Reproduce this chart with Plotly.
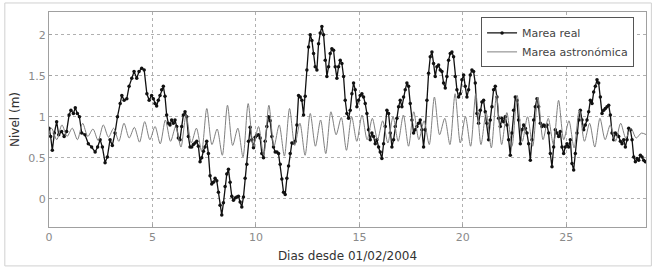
import numpy as np
import plotly.graph_objects as go

# ---- Marea real (measured level, m) ----
real_days_a = [0.00, 0.08, 0.16, 0.26, 0.37, 0.47, 0.61, 0.73, 0.85, 0.97, 1.06, 1.18, 1.27, 1.37,
               1.47, 1.58, 1.74, 1.90, 2.06, 2.23, 2.35, 2.47, 2.58, 2.71, 2.82, 2.95, 3.06, 3.19,
               3.31, 3.44, 3.52, 3.63, 3.76, 3.87, 4.00, 4.11, 4.24, 4.35, 4.48, 4.60, 4.73, 4.84]
real_level_a = [0.86, 0.76, 0.59, 0.80, 0.94, 0.78, 0.82, 0.76, 0.82, 1.02, 1.08, 1.04, 1.11, 1.04,
                1.00, 0.80, 0.78, 0.67, 0.63, 0.57, 0.63, 0.72, 0.63, 0.44, 0.51, 0.72, 0.65, 0.80,
                1.00, 1.16, 1.26, 1.20, 1.22, 1.37, 1.47, 1.55, 1.47, 1.55, 1.59, 1.57, 1.28, 1.20]

real_span_b = (4.96, 12.06)
real_level_b = [1.26, 1.22, 1.16, 1.13, 1.20, 1.26, 1.33, 1.37, 1.25, 1.02, 0.92, 0.90, 0.96, 0.92,
                0.96, 0.88, 0.74, 0.72, 0.88, 1.02, 1.06, 1.00, 0.76, 0.63, 0.63, 0.66, 0.68, 0.70,
                0.64, 0.45, 0.50, 0.58, 0.63, 0.70, 0.55, 0.28, 0.18, 0.20, 0.25, 0.22, 0.08, -0.08,
                -0.20, -0.05, 0.15, 0.30, 0.36, 0.20, 0.03, -0.02, 0.01, 0.02, 0.03, -0.04, -0.10,
                0.02, 0.25, 0.42, 0.70, 0.87, 0.72, 0.62, 0.75, 0.77, 0.78, 0.74, 0.55, 0.50, 0.70,
                0.88, 1.00, 0.95, 0.76, 0.63, 0.57, 0.57, 0.55, 0.42, 0.24, 0.08, 0.05, 0.25, 0.40,
                0.55, 0.68, 0.68, 0.70, 0.90, 1.26]

real_span_c = (12.14, 19.31)
real_level_c = [1.24, 1.20, 1.02, 1.25, 1.57, 1.85, 2.00, 1.93, 1.77, 1.61, 1.57, 1.89, 2.02, 2.10,
                2.00, 1.69, 1.49, 1.61, 1.77, 1.83, 1.81, 1.61, 1.47, 1.61, 1.69, 1.65, 1.49, 1.20,
                1.04, 0.98, 1.08, 1.28, 1.41, 1.33, 1.12, 1.20, 1.26, 1.28, 1.24, 1.16, 1.04, 0.84,
                0.72, 0.80, 0.76, 0.67, 0.72, 0.63, 0.57, 0.49, 0.67, 0.88, 1.08, 1.04, 0.80, 0.63,
                0.72, 0.88, 0.98, 1.12, 1.20, 1.12, 1.24, 1.33, 1.41, 1.37, 1.16, 0.96, 0.80, 0.84,
                0.88, 0.92, 0.96, 0.84, 0.63, 0.84, 1.20, 1.53, 1.73, 1.79, 1.65, 1.49, 1.61, 1.63,
                1.57, 1.55, 1.41, 1.35, 1.49, 1.69]

real_span_d = (19.39, 28.82)
real_level_d = [1.77, 1.79, 1.73, 1.49, 1.33, 1.24, 1.28, 1.45, 1.51, 1.37, 1.24, 1.33, 1.51, 1.57,
                1.55, 1.41, 1.04, 0.92, 1.08, 1.18, 1.20, 1.06, 0.92, 0.72, 0.96, 1.12, 1.33, 1.37,
                1.24, 0.98, 0.88, 0.98, 0.94, 1.00, 0.90, 0.72, 0.53, 0.80, 1.08, 1.24, 1.20, 0.96,
                0.67, 0.84, 0.90, 0.86, 0.80, 0.67, 0.47, 0.72, 0.96, 1.12, 1.22, 1.12, 0.92, 0.88,
                0.90, 0.88, 0.90, 0.80, 0.55, 0.39, 0.63, 0.84, 0.80, 0.76, 0.82, 0.63, 0.55, 0.63,
                0.67, 0.63, 0.72, 0.43, 0.35, 0.55, 0.80, 0.96, 1.08, 0.96, 0.84, 0.90, 0.96, 1.06,
                1.20, 1.16, 1.30, 1.37, 1.45, 1.41, 1.24, 1.04, 1.08, 1.10, 1.12, 1.14, 1.02, 0.80,
                0.72, 0.80, 0.78, 0.76, 0.70, 0.67, 0.72, 0.63, 0.72, 0.86, 0.84, 0.72, 0.51, 0.45,
                0.49, 0.47, 0.53, 0.51, 0.47, 0.45]

# ---- Marea astronomica: per day [secondary high, deep low, main high, shallow low] ----
astro_by_day = [
    [0.86, 0.72, 0.90, 0.76], [0.86, 0.72, 0.92, 0.76], [0.85, 0.71, 0.90, 0.75],
    [0.86, 0.70, 0.92, 0.74], [0.87, 0.69, 0.94, 0.72], [0.88, 0.67, 0.96, 0.70],
    [0.88, 0.63, 1.02, 0.68], [0.86, 0.58, 1.10, 0.66], [0.85, 0.53, 1.14, 0.65],
    [0.86, 0.51, 1.16, 0.64], [0.88, 0.53, 1.14, 0.64], [0.90, 0.52, 1.10, 0.65],
    [0.92, 0.53, 1.04, 0.64], [0.96, 0.55, 1.06, 0.78], [0.99, 0.59, 1.00, 0.70],
    [1.02, 0.72, 0.98, 0.72], [0.95, 0.68, 1.00, 0.70], [1.02, 0.64, 1.06, 0.72],
    [0.95, 0.66, 1.24, 0.78], [0.98, 0.66, 1.28, 0.68], [1.00, 0.64, 1.28, 0.66],
    [1.05, 0.62, 1.26, 0.66], [1.05, 0.64, 1.26, 0.70], [1.00, 0.64, 1.24, 0.72],
    [0.98, 0.66, 1.20, 0.72], [0.95, 0.62, 1.08, 0.70], [0.92, 0.63, 0.98, 0.72],
    [0.90, 0.70, 0.92, 0.74], [0.86, 0.74, 0.80, 0.78],
]
astro_start_level = 0.80
astro_phases = [0.125, 0.375, 0.625, 0.875]

x_ticks = [0, 5, 10, 15, 20, 25]
y_ticks = [0, 0.5, 1, 1.5, 2]
y_ticktext = ["0", "0.5", "1", "1.5", "2"]
x_title = "Dias desde 01/02/2004"
y_title = "Nivel (m)"
name_real = "Marea real"
name_astro = "Marea astronómica"

# assemble
real_x = list(real_days_a)
real_y = list(real_level_a)
for span, vals in [(real_span_b, real_level_b), (real_span_c, real_level_c), (real_span_d, real_level_d)]:
    real_x += list(np.linspace(span[0], span[1], len(vals)))
    real_y += vals

astro_x = [0.0]
astro_y = [astro_start_level]
for d, vals in enumerate(astro_by_day):
    for ph, v in zip(astro_phases, vals):
        astro_x.append(d + ph)
        astro_y.append(v)

fig = go.Figure()
fig.add_trace(go.Scatter(
    x=real_x, y=real_y, mode="lines+markers", name=name_real,
    line=dict(color="#111111", width=1.3),
    marker=dict(color="#111111", size=3.5),
))
fig.add_trace(go.Scatter(
    x=astro_x, y=astro_y, mode="lines", name=name_astro,
    line=dict(color="#808080", width=1, shape="spline", smoothing=0.8),
))

axis_common = dict(
    showline=True, linecolor="#a0a0a0", linewidth=1, mirror=True,
    showgrid=True, gridcolor="#b0b0b0", griddash="dot", gridwidth=1,
    zeroline=False, ticks="inside", ticklen=3, tickcolor="#a0a0a0",
    tickfont=dict(family="DejaVu Sans", size=11, color="#8a8a8a"),
)

fig.update_layout(
    width=653, height=275,
    margin=dict(l=49, r=7, t=12, b=48),
    paper_bgcolor="white", plot_bgcolor="white",
    showlegend=True,
    legend=dict(
        x=0.98, xanchor="right", y=0.975, yanchor="top",
        bgcolor="white", bordercolor="#555555", borderwidth=1,
        font=dict(family="DejaVu Sans", size=11, color="#444444"),
        tracegroupgap=0, itemwidth=30,
    ),
    xaxis=dict(range=[0, 28.85], tickvals=x_ticks,
               title=dict(text=x_title, font=dict(family="DejaVu Sans", size=12, color="#333333"), standoff=8),
               **axis_common),
    yaxis=dict(range=[-0.345, 2.277], tickvals=y_ticks, ticktext=y_ticktext,
               title=dict(text=y_title, font=dict(family="DejaVu Sans", size=12, color="#333333"), standoff=6),
               **axis_common),
    shapes=[dict(type="rect", xref="paper", yref="paper",
                 x0=-0.074, x1=1.009, y0=-0.181, y1=1.042,
                 line=dict(color="#d0d0d0", width=1), layer="below")],
)

fig.write_html("out.html", config={"displayModeBar": False},
               post_script="document.body.style.margin='0';document.body.style.overflow='hidden';")
